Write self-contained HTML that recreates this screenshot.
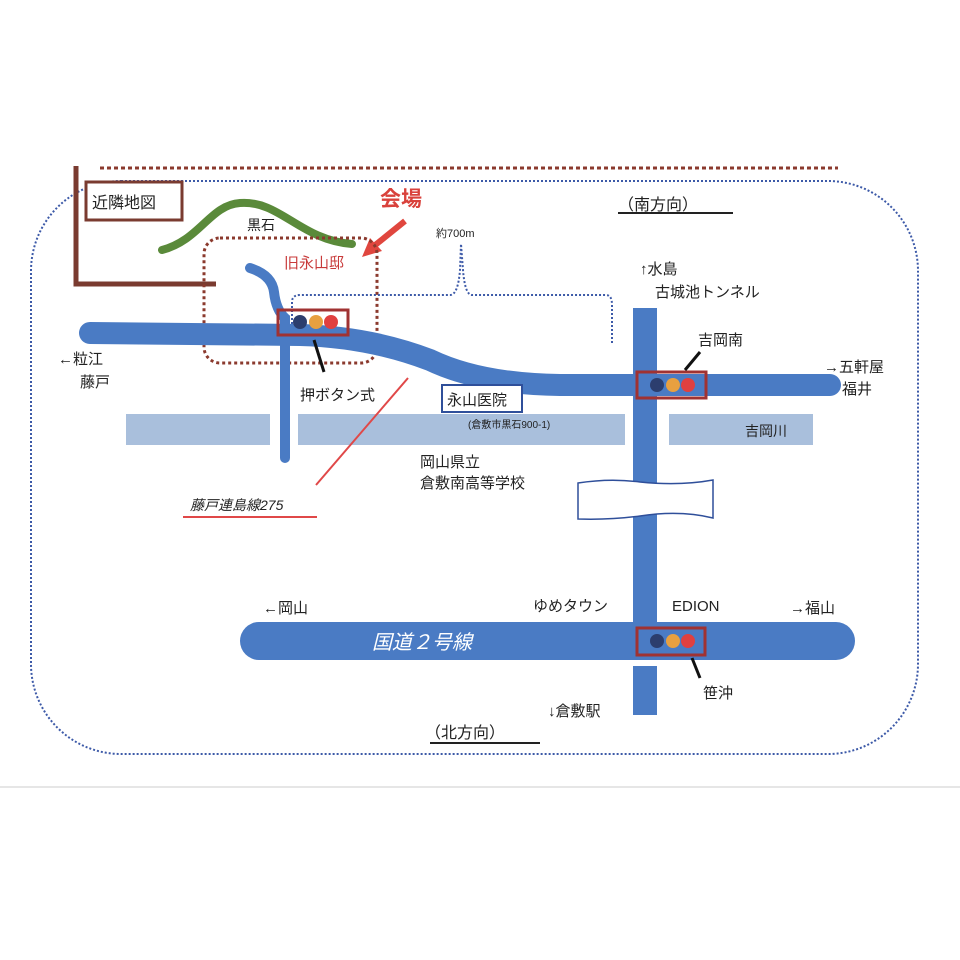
<!DOCTYPE html>
<html><head><meta charset="utf-8"><style>
html,body{margin:0;padding:0;background:#fff}
svg{display:block}
text{font-family:"Liberation Sans","Noto Sans CJK JP",sans-serif;fill:#222}
</style></head><body>
<svg width="960" height="960" viewBox="0 0 960 960" xmlns="http://www.w3.org/2000/svg">
<rect width="960" height="960" fill="#fff"/>
<line x1="0" y1="787" x2="960" y2="787" stroke="#e6e6e6" stroke-width="2"/>
<!-- outer dotted blue rounded rect -->
<rect x="31" y="181" width="887" height="573" rx="90" fill="none" stroke="#3d5aa8" stroke-width="2" stroke-dasharray="2,2"/>
<!-- brown dotted top -->
<line x1="100" y1="168" x2="838" y2="168" stroke="#8b3a2e" stroke-width="3" stroke-dasharray="4,3"/>
<!-- brown L -->
<path d="M76 166 V284 H216" fill="none" stroke="#7a3b30" stroke-width="5"/>
<rect x="86" y="182" width="96" height="38" fill="#fff" stroke="#7a3b30" stroke-width="3"/>
<text x="92" y="208" font-size="16">近隣地図</text>
<!-- green hill -->
<path d="M162 250 C200 240,210 205,240 203 C280 200,300 240,352 244" fill="none" stroke="#5a8a3a" stroke-width="8" stroke-linecap="round"/>
<text x="247" y="230" font-size="14">黒石</text>
<text x="380" y="206" font-size="21" fill="#d9423c" style="fill:#d9423c" font-weight="bold">会場</text>
<line x1="405" y1="221" x2="374" y2="246" stroke="#e0463e" stroke-width="6"/>
<polygon points="362,257 370,238 382,251" fill="#e0463e"/>
<text x="284" y="268" font-size="15" style="fill:#c83a3a">旧永山邸</text>
<rect x="204" y="238" width="173" height="125" rx="16" fill="none" stroke="#8b3a2e" stroke-width="3" stroke-dasharray="3,3"/>
<!-- blue dotted path -->
<path d="M292 336 V302 Q292 295 300 295 H450 Q458 295 460 270 L461 244 L463 270 Q465 295 472 295 H606 Q612 295 612 305 V345" fill="none" stroke="#3d5aa8" stroke-width="2" stroke-dasharray="2,2"/>
<text x="436" y="237" font-size="11">約700m</text>
<!-- side road -->
<path d="M250 268 Q272 275 274 292 Q276 310 285 318 V458" fill="none" stroke="#4a7bc4" stroke-width="10" stroke-linecap="round"/>
<!-- main road -->
<path d="M90 333 L300 335 Q370 337 430 360 Q480 384 560 385 L830 385" fill="none" stroke="#4a7bc4" stroke-width="22" stroke-linecap="round"/>
<!-- light blue rects -->
<rect x="126" y="414" width="144" height="31" fill="#a9bfdc"/>
<rect x="298" y="414" width="327" height="31" fill="#a9bfdc"/>
<rect x="669" y="414" width="144" height="31" fill="#a9bfdc"/>
<text x="745" y="436" font-size="14">吉岡川</text>
<!-- vertical main road -->
<rect x="633" y="308" width="24" height="346" fill="#4a7bc4"/>
<rect x="633" y="666" width="24" height="49" fill="#4a7bc4"/>
<!-- bridge -->
<path d="M578 483 Q610 478 640 482 Q680 486 713 480 L713 518 Q680 510 640 516 Q610 520 578 519 Z" fill="#fff" stroke="#2f4f9a" stroke-width="1.5"/>
<!-- national road -->
<rect x="240" y="622" width="615" height="38" rx="19" fill="#4a7bc4"/>
<text x="372" y="649" font-size="20" font-style="italic" style="fill:#fff">国道２号線</text>
<!-- signals -->
<g>
<rect x="278" y="310" width="70" height="25" fill="none" stroke="#a03232" stroke-width="3"/>
<circle cx="300" cy="322" r="7" fill="#2c3e6e"/><circle cx="316" cy="322" r="7" fill="#e8a040"/><circle cx="331" cy="322" r="7" fill="#e04040"/>
<rect x="637" y="372" width="69" height="26" fill="none" stroke="#a03232" stroke-width="3"/>
<circle cx="657" cy="385" r="7" fill="#2c3e6e"/><circle cx="673" cy="385" r="7" fill="#e8a040"/><circle cx="688" cy="385" r="7" fill="#e04040"/>
<rect x="637" y="628" width="68" height="27" fill="none" stroke="#a03232" stroke-width="3"/>
<circle cx="657" cy="641" r="7" fill="#2c3e6e"/><circle cx="673" cy="641" r="7" fill="#e8a040"/><circle cx="688" cy="641" r="7" fill="#e04040"/>
</g>
<line x1="314" y1="340" x2="324" y2="372" stroke="#111" stroke-width="3"/>
<text x="300" y="400" font-size="15">押ボタン式</text>
<line x1="685" y1="370" x2="700" y2="352" stroke="#111" stroke-width="3"/>
<text x="698" y="345" font-size="15">吉岡南</text>
<line x1="692" y1="658" x2="700" y2="678" stroke="#111" stroke-width="3"/>
<text x="703" y="698" font-size="15">笹沖</text>
<rect x="442" y="385" width="80" height="27" fill="#fff" stroke="#2f4f9a" stroke-width="2"/>
<text x="447" y="405" font-size="15">永山医院</text>
<text x="468" y="428" font-size="10">(倉敷市黒石900-1)</text>
<line x1="408" y1="378" x2="316" y2="485" stroke="#e04848" stroke-width="2"/>
<text x="190" y="510" font-size="14" font-style="italic">藤戸連島線275</text>
<line x1="183" y1="517" x2="317" y2="517" stroke="#e04848" stroke-width="2"/>
<text x="420" y="467" font-size="15">岡山県立</text>
<text x="420" y="488" font-size="15">倉敷南高等学校</text>
<text x="58" y="364" font-size="15">←粒江</text>
<text x="80" y="387" font-size="15">藤戸</text>
<text x="824" y="372" font-size="15">→五軒屋</text>
<text x="842" y="394" font-size="15">福井</text>
<text x="640" y="274" font-size="15">↑水島</text>
<text x="655" y="297" font-size="15">古城池トンネル</text>
<text x="618" y="210" font-size="16">（南方向）</text>
<line x1="618" y1="213" x2="733" y2="213" stroke="#222" stroke-width="2"/>
<text x="263" y="613" font-size="15">←岡山</text>
<text x="533" y="611" font-size="15">ゆめタウン</text>
<text x="672" y="611" font-size="15">EDION</text>
<text x="790" y="613" font-size="15">→福山</text>
<text x="548" y="716" font-size="15">↓倉敷駅</text>
<text x="425" y="738" font-size="16">（北方向）</text>
<line x1="430" y1="743" x2="540" y2="743" stroke="#222" stroke-width="2"/>
</svg>
</body></html>
